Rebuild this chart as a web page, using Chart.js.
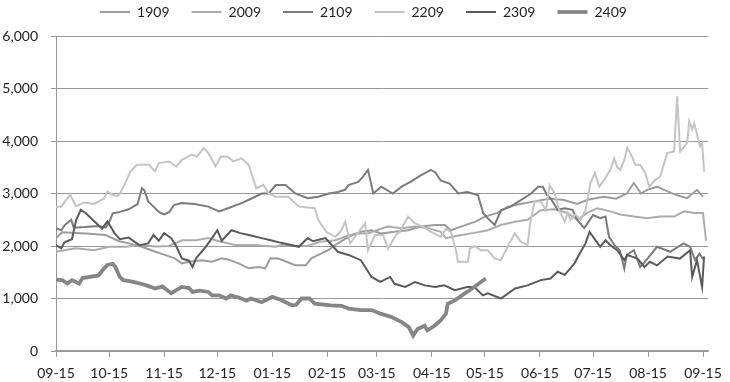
<!DOCTYPE html>
<html>
<head>
<meta charset="utf-8">
<script src="https://cdn.jsdelivr.net/npm/chart.js@4.4.1/dist/chart.umd.min.js"></script>
<style>
    html, body { margin: 0; padding: 0; background: #fff; }
</style>
</head>
<body>
<canvas id="grafico" width="730" height="382"></canvas>
<script>
// ========== dados ==========
// eixo x em dias contados a partir de 09-15
const tickDays = [0, 30, 61, 91, 122, 153, 181, 212, 242, 273, 303, 334, 365];
const tickLabels = ['09-15', '10-15', '11-15', '12-15', '01-15', '02-15', '03-15',
                    '04-15', '05-15', '06-15', '07-15', '08-15', '09-15'];
const seriesNames = ['1909', '2009', '2109', '2209', '2309', '2409'];

// [dia, valor]
const s1909 = [[0,2150],[3.5,2260],[17,2240],[28,2210],[35.6,2090],[41,2050],[48.5,1985],[56,1890],[61.4,1830],[67,1765],
    [71,1670],[75,1700],[82,1730],[88,1700],[93.5,1765],[97.4,1740],[103,1670],[108.7,1575],[114.3,1600],[118,1575],
    [121,1765],[125.5,1760],[135,1635],[141,1635],[144,1765],[148,1830],[153.6,1920],[157.6,2020],[165,2175],[172,2270],
    [178,2300],[183.4,2240],[191,2270],[198.6,2300],[206,2370],[213.8,2400],[219.4,2400],[222.8,2300],[228.4,2370],[236.3,2460],
    [242,2560],[249,2630],[255,2750],[262,2800],[270,2850],[278,2900],[286,2880],[294,2800],[300,2880],[309,2940],
    [316,2900],[322,3000],[326,3200],[330,3000],[333.5,3070],[339,3130],[345,3040],[350,2970],[356,2910],[361.6,3070],[365,2940]];

const s2009 = [[0,1890],[11,1955],[21.5,1920],[30,1985],[39,1985],[48.5,2020],[56,1990],[63.7,2000],[71,2110],[79,2110],
    [86,2150],[92,2090],[101,2020],[112,2020],[123.8,1985],[127,2020],[135,2000],[142,2000],[149,2080],[157.6,2110],
    [163,2175],[169,2240],[176,2240],[181,2300],[187,2370],[195,2340],[202.6,2370],[210,2340],[217,2270],[220,2150],
    [227,2200],[236,2250],[243.6,2300],[250.9,2400],[258.8,2460],[266,2500],[273.5,2680],[281,2700],[288.6,2630],[294,2500],
    [299.8,2630],[305.4,2720],[312.7,2660],[318.3,2600],[326.2,2560],[333.5,2530],[340.8,2560],[348.7,2560],[354.4,2660],[360,2630],
    [365,2630],[366.7,2100]];

const s2109 = [[0,2340],[3,2300],[5,2400],[8.6,2500],[10,2350],[16,2360],[24,2380],[28,2350],[30,2450],[32,2620],
    [36,2650],[41,2700],[46,2800],[48.5,3100],[50,3050],[52,2850],[55,2750],[58,2650],[61,2600],[64,2650],
    [66.5,2780],[71,2820],[78,2800],[86,2750],[92,2660],[97,2720],[105,2820],[110,2900],[116,3000],[120,3000],
    [124,3160],[129.5,3160],[135,3000],[142,2910],[148,2940],[154,3000],[159,3030],[163,3070],[165,3160],[170.5,3220],
    [173,3310],[176,3450],[179,3000],[183.5,3130],[190,3000],[195,3130],[200,3220],[206,3350],[211.5,3450],[214,3400],
    [217,3250],[222,3190],[227,3000],[232,3030],[238,2970],[241,2630],[243.5,2530],[247.5,2400],[251,2680],[256.5,2750],
    [262,2870],[268,3000],[272,3130],[274.6,3130],[277,2970],[279,2910],[283,2690],[287,2720],[291.4,2690],[294,2500],
    [298,2340],[300,2440],[303,2590],[307,2530],[310,2560],[312,2175],[315,2020],[318,1920],[320.6,1570],[322,1830],
    [326,1920],[329.6,1600],[333.5,1750],[339,1985],[346.5,1890],[354,2050],[357.7,1985],[360.5,1730],[363,1855],[365,1750]];

const s2209 = [[0,2750],[3,2750],[5,2850],[8,2970],[11.4,2760],[16,2830],[21.5,2800],[27,2900],[29,3040],[31.6,2980],
    [34.5,2950],[36,3000],[38.4,3150],[42,3420],[45.7,3550],[52.4,3550],[55.8,3420],[58,3580],[63.7,3610],[68,3510],
    [71,3640],[76.6,3740],[79.4,3700],[83.4,3866],[86,3770],[90,3515],[93,3705],[97,3700],[100,3610],[104.7,3670],
    [108.7,3547],[113,3100],[117,3165],[120,3000],[124,2940],[131,2940],[137,2750],[146,2720],[148,2495],[152.5,2270],
    [157.6,2175],[160.4,2270],[163.2,2460],[166,2050],[169.4,2210],[174.4,2430],[176,1920],[180,2210],[184.5,2210],[187.3,1950],
    [191.8,2210],[194,2270],[198.6,2560],[202.6,2430],[207,2370],[211.6,2270],[217,2175],[220,2330],[222.8,2270],[225.6,1920],
    [226.7,1700],[232.4,1700],[233.5,1955],[236.3,2000],[239.6,1920],[243.6,1920],[247.5,1760],[250.9,1730],[254.8,1985],[258.8,2245],
    [262.2,2080],[266,2020],[267.8,2500],[270,2850],[273.5,2850],[276.3,2680],[278.5,3160],[281.3,3000],[284,2680],[287,2460],
    [288.6,2630],[290.3,2500],[293,2600],[296,2500],[298.7,2680],[301.5,3200],[304,3390],[306.5,3130],[309.3,3260],[312.7,3450],
    [314.9,3670],[316.6,3500],[318.3,3450],[320.6,3640],[322.3,3870],[324,3770],[326.8,3550],[329.6,3550],[332.4,3390],[334.7,3130],
    [338,3260],[340.8,3320],[344.8,3770],[348.7,3800],[350.4,4850],[352.1,3800],[356.1,3970],[357.2,4380],[358.9,4220],[360,4340],
    [363.3,3900],[364.5,3960],[365.6,3420]];

const s2309 = [[0,2017],[3,1955],[4.7,2070],[9,2130],[11.4,2500],[14,2690],[17,2620],[26,2330],[29,2470],[33,2245],
    [36,2130],[41,2160],[47,2017],[52,2050],[55,2210],[58,2100],[61,2245],[65,2150],[68,1985],[71,1765],
    [75,1720],[77,1600],[79,1765],[84.5,1985],[88,2150],[91,2300],[93.5,2100],[99,2300],[104,2245],[110,2200],
    [116,2150],[120,2120],[127,2060],[137,1985],[142,2150],[145,2090],[152,2150],[159,1890],[165,1830],[172,1730],
    [178,1410],[183,1315],[188.5,1410],[191,1280],[197,1220],[202.6,1315],[208,1250],[214,1220],[219,1250],[225,1157],
    [232,1220],[236,1220],[240.8,1060],[243.6,1100],[251,1000],[259,1190],[266,1250],[273.5,1350],[279,1380],[283,1510],
    [287,1450],[292.5,1670],[295,1830],[298.7,2050],[301,2270],[303.7,2140],[307,1985],[310,2110],[312.7,2020],[316.6,1920],
    [320.6,1730],[322.3,1830],[328,1760],[332,1600],[335,1700],[339,1630],[345,1800],[352,1760],[357.7,1920],[358.9,1410],
    [361.6,1730],[364.5,1220],[365.6,1800]];

const s2409 = [[0,1360],[3.5,1350],[6.4,1285],[9,1350],[13,1285],[15,1390],[24,1440],[27,1570],[29,1640],[32,1660],
    [33.5,1600],[36,1410],[38,1350],[43,1320],[47,1290],[51,1250],[56,1190],[60,1230],[65,1100],[71,1220],
    [75,1200],[77,1125],[81,1150],[86,1125],[88,1060],[92,1060],[96,1000],[98.5,1060],[103,1020],[107.5,960],
    [110,1000],[116,930],[122,1030],[127,970],[133,870],[135.5,880],[138.5,1000],[143,1000],[146,900],[155,870],
    [161,860],[165,807],[172,780],[178,780],[183,711],[189,650],[195,550],[199,455],[201.5,296],[204,420],
    [208,480],[209.5,392],[213.5,480],[217,583],[220,711],[221,900],[225,965],[230.5,1093],[236,1220],[239.5,1310],[242.5,1380]];

const coresSeries = ['#9c9c9c', '#acacac', '#7b7b7b', '#c4c4c4', '#5a5a5a', '#868686'];
const larguras = [2, 2, 2, 2, 2, 3.8];

// desloca a legenda para cima (a altura reservada fica em maxHeight)
const ajusteLegenda = {
    id: 'ajusteLegenda',
    afterLayout(chart) {
        const lg = chart.legend;
        lg.top -= 17; lg.bottom -= 17;
        lg.left += 8; lg.right += 8;
    }
};

const todas = [s1909, s2009, s2109, s2209, s2309, s2409];
const datasets = todas.map((serie, i) => ({
    label: seriesNames[i],
    data: serie.map(p => ({ x: p[0], y: p[1] })),
    borderColor: coresSeries[i],
    backgroundColor: coresSeries[i],
    borderWidth: larguras[i],
    pointRadius: 0,
    pointStyle: 'line',
    tension: 0,
    order: todas.length - 1 - i
}));

new Chart(document.getElementById('grafico'), {
    type: 'line',
    data: { datasets: datasets },
    plugins: [ajusteLegenda],
    options: {
        responsive: false,
        animation: false,
        layout: { padding: { left: 0, right: 19, top: 0, bottom: 0 } },
        plugins: {
            tooltip: { enabled: false },
            legend: {
                position: 'top',
                maxHeight: 36,
                labels: {
                    usePointStyle: true,
                    pointStyleWidth: 30,
                    padding: 22,
                    color: '#222',
                    font: { family: 'Lato', size: 14 },
                    sort: (a, b) => a.datasetIndex - b.datasetIndex
                }
            }
        },
        scales: {
            x: {
                type: 'linear',
                min: 0,
                max: 368,
                afterBuildTicks: (scale) => { scale.ticks = tickDays.map(v => ({ value: v })); },
                afterFit: (scale) => { scale.height = 31; },
                ticks: {
                    autoSkip: false,
                    maxRotation: 0,
                    padding: 8,
                    color: '#222',
                    font: { family: 'Lato', size: 14 },
                    callback: (v) => tickLabels[tickDays.indexOf(v)]
                },
                grid: { drawOnChartArea: false, drawTicks: true, tickLength: 6, color: '#9a9a9a' },
                border: { color: '#9a9a9a', width: 1.5 }
            },
            y: {
                min: 0,
                max: 6000,
                afterFit: (scale) => { scale.width = 56; },
                ticks: {
                    stepSize: 1000,
                    padding: 13,
                    color: '#222',
                    font: { family: 'Lato', size: 14 },
                    callback: (v) => v.toLocaleString('en-US')
                },
                grid: { color: '#999', tickLength: 5 },
                border: { color: '#999' }
            }
        }
    }
});
</script>
</body>
</html>
